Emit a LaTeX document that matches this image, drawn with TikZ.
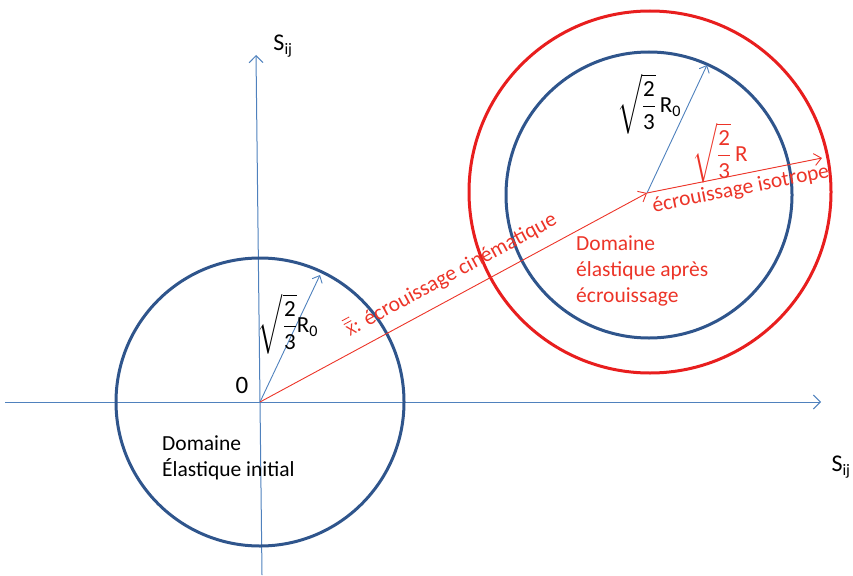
\documentclass[tikz,border=0pt]{standalone}
\usepackage{fontspec}
\setmainfont{Carlito}
\usepackage{amsmath}
\usetikzlibrary{arrows.meta}
\definecolor{axisblue}{RGB}{79,129,189}
\definecolor{circblue}{RGB}{47,85,140}
\definecolor{circred}{RGB}{232,30,30}
\definecolor{txtred}{RGB}{236,52,40}
\newcommand{\sqfrac}{\sqrt{\dfrac{\text{2}}{\text{3}}}}
\begin{document}
\begin{tikzpicture}[x=1pt,y=-1pt,
  font=\fontsize{21.5}{26}\selectfont,
  axis/.style={draw=axisblue,line width=1pt,-{Straight Barb[length=7pt,width=14pt]}},
  radblue/.style={draw=axisblue,line width=0.9pt,-{Straight Barb[length=6pt,width=11pt]}},
  radred/.style={draw=txtred,line width=0.9pt,-{Straight Barb[length=7pt,width=12pt]}},
  bluecirc/.style={draw=circblue,line width=3pt,circle,inner sep=0pt},
  redcirc/.style={draw=circred,line width=3pt,circle,inner sep=0pt},
  lbl/.style={inner sep=1pt},
  redlbl/.style={inner sep=1pt,text=txtred},
  mathlbl/.style={inner sep=1pt,font=\fontsize{23}{28}\selectfont}]
\useasboundingbox (0,0) rectangle (853,575);
% coordinates
\coordinate (O) at (260,402);
\coordinate (C) at (647,193);
\coordinate (xl) at (5,402);
\coordinate (xr) at (821,402);
\coordinate (yb) at (262,575);
\coordinate (yt) at (256,55);
\coordinate (t0) at (320,275);
\coordinate (t1) at (707,65);
\coordinate (t2) at (822,158);
% axes
\draw[axis] (xl) -- (xr);
\draw[axis] (yb) -- (yt);
% circles
\node[bluecirc,minimum size=288pt] (c0) at (O) {};
\node[bluecirc,minimum size=286pt] (c1) at (649,195) {};
\node[redcirc,minimum size=362pt] (c2) at (650,192) {};
% radius arrows
\draw[radblue] (O) -- (t0);
\draw[radred] (O) -- (C)
  node[pos=0.52,sloped,above=11pt,text=txtred,inner sep=0pt] (kin) {$\overline{\overline{\text{\fontsize{16}{16}\selectfont X}}}$: écrouissage cinématique};
\draw[radblue] (C) -- (t1);
\draw[radred] (C) -- (t2)
  node[pos=0.52,sloped,below=5pt,text=txtred,inner sep=0pt] (iso) {écrouissage isotrope};
% labels
\node[lbl] (zero) at (242,385) {\fontsize{25}{28}\selectfont 0};
\node[lbl] (sy) at (283,46) {\fontsize{24}{26}\selectfont S$_{\text{\fontsize{16}{16}\selectfont ij}}$};
\node[lbl] (sx) at (841,467) {\fontsize{24}{26}\selectfont S$_{\text{\fontsize{16}{16}\selectfont ij}}$};
\node[mathlbl] (r0a) at (288,324) {$\sqfrac\text{R}_{\text{0}}$};
\node[mathlbl] (r0b) at (649,104) {$\sqfrac$\,$\text{R}_{\text{0}}$};
\node[mathlbl,text=txtred] (rr) at (720,153) {$\sqfrac$\,R};
\node[lbl,anchor=west,align=left] (dom0) at (161,458) {Domaine\\Élastique initial};
\node[redlbl,anchor=west,align=left] (dom1) at (575,271) {Domaine\\élastique après\\écrouissage};
\end{tikzpicture}
\end{document}
